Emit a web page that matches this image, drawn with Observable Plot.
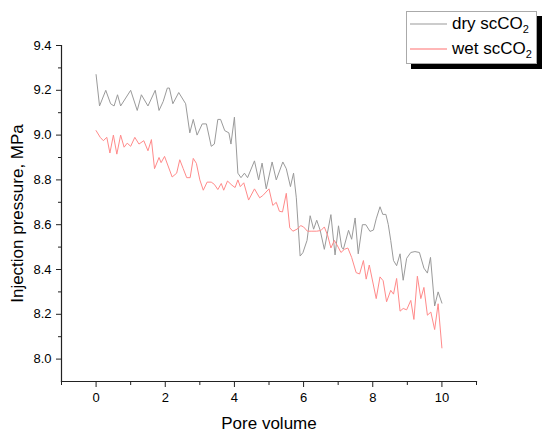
<!DOCTYPE html>
<html>
<head>
<meta charset="utf-8">
<script src="https://cdn.jsdelivr.net/npm/d3@7"></script>
<script src="https://cdn.jsdelivr.net/npm/@observablehq/plot@0.6"></script>
<style>
  html, body { margin: 0; padding: 0; background: #fff; }
  #wrap { position: relative; width: 550px; height: 439px; font-family: "Liberation Sans", Arial, sans-serif; }
  #legend { position: absolute; left: 406px; top: 11px; width: 129px; height: 51px; background: #fff;
            border: 1px solid #aaa; box-shadow: 5px 5px 0 #000; }
  .row { position: absolute; left: 0; height: 20px; display: flex; align-items: center; }
  .row svg { display: block; margin-left: 3px; margin-right: 5px; }
  .row span.t { font-size: 17px; color: #000; white-space: nowrap; }
  .row sub { font-size: 11px; vertical-align: -4px; line-height: 0; }
</style>
</head>
<body>
<div id="wrap">
  <div id="chart"></div>
  <div id="legend">
    <div class="row" style="top:2px"><svg width="37" height="4"><line x1="0" x2="37" y1="2" y2="2" stroke="#9a9a9a" stroke-width="1.2"/></svg><span class="t">dry scCO<sub>2</sub></span></div>
    <div class="row" style="top:27px"><svg width="37" height="4"><line x1="0" x2="37" y1="2" y2="2" stroke="#ff7070" stroke-width="1.2"/></svg><span class="t">wet scCO<sub>2</sub></span></div>
  </div>
</div>
<script>
// Dry scCO2 series: pore volume and injection pressure (MPa)
const dryPV = [0.0,0.1,0.28,0.42,0.52,0.62,0.71,1.0,1.19,1.31,1.5,1.71,1.82,1.94,2.06,2.12,2.22,2.39,2.59,2.71,2.81,2.92,3.07,3.19,3.33,3.42,3.52,3.6,3.72,3.84,3.9,4.0,4.1,4.19,4.29,4.38,4.58,4.7,4.8,4.92,5.09,5.21,5.4,5.5,5.62,5.71,5.79,5.9,5.98,6.1,6.19,6.29,6.38,6.48,6.6,6.79,6.91,7.01,7.1,7.15,7.3,7.39,7.49,7.58,7.7,7.8,7.92,8.02,8.1,8.21,8.29,8.38,8.45,8.52,8.6,8.69,8.79,8.88,8.98,9.1,9.22,9.35,9.48,9.58,9.67,9.79,9.89,10.0];
const dryP  = [9.27,9.13,9.20,9.14,9.13,9.18,9.13,9.20,9.11,9.18,9.13,9.20,9.11,9.15,9.21,9.21,9.14,9.19,9.14,9.01,9.07,9.00,9.05,9.05,8.95,8.96,9.07,9.07,9.02,9.01,8.96,9.08,8.83,8.81,8.83,8.81,8.885,8.80,8.875,8.76,8.88,8.80,8.88,8.85,8.77,8.83,8.72,8.46,8.475,8.53,8.64,8.58,8.62,8.575,8.49,8.645,8.465,8.595,8.50,8.49,8.575,8.535,8.63,8.47,8.60,8.60,8.57,8.576,8.626,8.68,8.646,8.646,8.60,8.53,8.44,8.417,8.47,8.352,8.45,8.476,8.48,8.476,8.406,8.384,8.454,8.237,8.30,8.25];
// Wet scCO2 series
const wetPV = [0.0,0.12,0.21,0.31,0.4,0.5,0.6,0.71,0.81,0.9,1.0,1.12,1.24,1.38,1.5,1.6,1.69,1.82,1.88,1.98,2.2,2.33,2.42,2.52,2.62,2.72,2.81,2.9,3.0,3.1,3.21,3.33,3.42,3.52,3.62,3.69,3.8,3.93,4.02,4.1,4.17,4.27,4.41,4.58,4.73,4.82,5.0,5.11,5.21,5.3,5.39,5.5,5.6,5.69,5.81,5.92,6.0,6.11,6.24,6.38,6.5,6.6,6.7,6.79,6.89,7.0,7.08,7.18,7.28,7.39,7.52,7.62,7.73,7.81,7.9,8.1,8.21,8.3,8.4,8.52,8.6,8.69,8.79,8.88,8.98,9.1,9.19,9.29,9.39,9.48,9.58,9.68,9.79,9.89,10.0];
const wetP  = [9.02,8.99,8.975,8.99,8.92,9.0,8.915,9.0,8.946,8.964,8.95,8.99,8.96,8.975,8.93,8.98,8.85,8.90,8.877,8.905,8.813,8.83,8.89,8.85,8.81,8.81,8.896,8.874,8.80,8.754,8.79,8.79,8.78,8.757,8.784,8.754,8.795,8.776,8.766,8.80,8.77,8.787,8.71,8.76,8.72,8.73,8.76,8.686,8.70,8.66,8.657,8.74,8.586,8.571,8.58,8.596,8.59,8.571,8.571,8.571,8.574,8.59,8.55,8.496,8.53,8.50,8.476,8.49,8.496,8.454,8.386,8.38,8.44,8.357,8.42,8.27,8.367,8.35,8.256,8.307,8.29,8.36,8.214,8.226,8.22,8.262,8.177,8.37,8.27,8.32,8.196,8.21,8.132,8.247,8.05];

const xMajor = [0, 2, 4, 6, 8, 10];
const xMinor = [-1, 1, 3, 5, 7, 9, 11];
const yMajor = [8.0, 8.2, 8.4, 8.6, 8.8, 9.0, 9.2, 9.4];
const yMinor = [8.1, 8.3, 8.5, 8.7, 8.9, 9.1, 9.3];

const dry = dryPV.map((x, i) => ({x, y: dryP[i]}));
const wet = wetPV.map((x, i) => ({x, y: wetP[i]}));

const chart = Plot.plot({
  width: 550,
  height: 439,
  marginLeft: 61,
  marginRight: 74,
  marginTop: 45,
  marginBottom: 58,
  x: {domain: [-1, 11]},
  y: {domain: [7.9, 9.4]},
  style: {fontFamily: "Liberation Sans, Arial, sans-serif", fontSize: "13px", color: "#000", background: "#fff"},
  marks: [
    Plot.line(dry, {x: "x", y: "y", stroke: "#9a9a9a", strokeWidth: 1}),
    Plot.line(wet, {x: "x", y: "y", stroke: "#ff8a8a", strokeWidth: 1}),
    Plot.frame({anchor: "left", stroke: "#222", strokeWidth: 1.2}),
    Plot.frame({anchor: "bottom", stroke: "#222", strokeWidth: 1.2}),
    Plot.axisX({ticks: xMajor, tickSize: 6, tickPadding: 5, label: null, stroke: "#222", fontSize: 13}),
    Plot.axisX({ticks: xMinor, tickSize: 4, tickFormat: () => "", label: null, stroke: "#222"}),
    Plot.axisY({ticks: yMajor, tickSize: 5, tickPadding: 5, tickFormat: d3.format(".1f"), label: null, stroke: "#222", fontSize: 13}),
    Plot.axisY({ticks: yMinor, tickSize: 3, tickFormat: () => "", label: null, stroke: "#222"}),
    Plot.text(["Pore volume"], {frameAnchor: "bottom", dy: 47, fontSize: 17, fill: "#000"}),
    Plot.text(["Injection pressure, MPa"], {frameAnchor: "left", dx: -44, rotate: -90, textAnchor: "middle", fontSize: 17, fill: "#000"})
  ]
});
document.getElementById("chart").appendChild(chart);
</script>
</body>
</html>
